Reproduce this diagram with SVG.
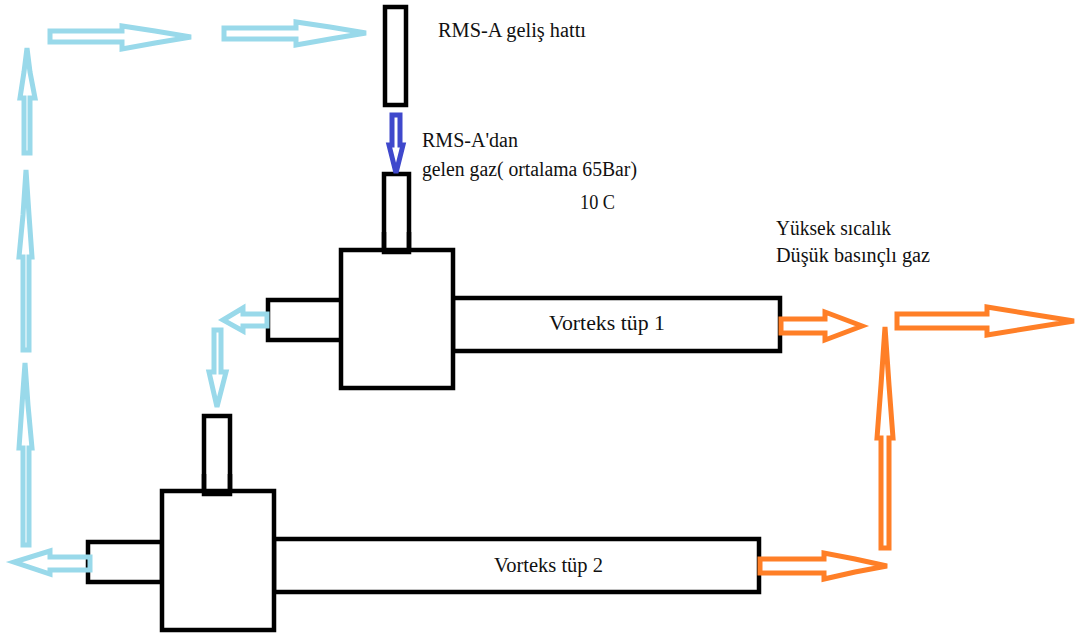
<svg xmlns="http://www.w3.org/2000/svg" width="1075" height="637" viewBox="0 0 1075 637">
<style>
.box{fill:#fff;stroke:#000;stroke-width:4.5}
.top{fill:none;stroke:#000;stroke-width:4.5}
.lb{fill:none;stroke:#99d9ea;stroke-width:5}
.or{fill:none;stroke:#ff7f27;stroke-width:5}
.bl{fill:none;stroke:#3f48cc;stroke-width:5}
text{font-family:"Liberation Serif","Times New Roman",serif;font-size:20px;fill:#111}
</style>
<rect width="1075" height="637" fill="#fff"/>
<g id="line"><rect class="box" x="385" y="7" width="21" height="98"/></g>
<g id="tube1">
<rect class="box" x="384" y="174" width="25" height="78"/>
<rect class="box" x="268" y="300" width="74" height="40"/>
<rect class="box" x="453" y="298" width="327" height="53"/>
<rect class="box" x="341" y="250" width="112" height="138"/>
<path class="top" d="M384,232V252H409V232"/>
<text x="549" y="330" textLength="116" lengthAdjust="spacingAndGlyphs">Vorteks tüp 1</text>
</g>
<g id="tube2">
<rect class="box" x="204" y="416" width="26" height="78"/>
<rect class="box" x="88" y="542" width="74" height="40"/>
<rect class="box" x="274" y="539" width="485" height="53"/>
<rect class="box" x="162" y="491" width="112" height="139"/>
<path class="top" d="M204,474V494H230V474"/>
<text x="494" y="572" textLength="109" lengthAdjust="spacingAndGlyphs">Vorteks tüp 2</text>
</g>
<g id="connectors">
<polygon class="lb" points="50,31 122,31 122,26 155,31 191,37 155,43 122,49 122,42 50,42"/>
<polygon class="lb" points="224,28 296,28 296,22 330,27 366,33 330,39 296,45 296,39 224,39"/>
<polygon class="lb" points="24,153 24,98 20,98 24,72 27,48 30,72 35,98 30,98 30,153"/>
<polygon class="lb" points="23,350 23,257 19,257 23,215 26,170 29,215 32,257 29,257 29,350"/>
<polygon class="lb" points="23,545 23,448 19,448 22,405 25,363 28,405 32,448 29,448 29,545"/>
<polygon class="lb" points="267,314 243,314 243,308 223,320 243,331 243,326 267,326"/>
<polygon class="lb" points="214,330 221,330 221,372 226,372 217,407 209,372 214,372"/>
<polygon class="lb" points="90,557 50,557 50,551 14,562 50,574 50,570 90,570"/>
<polygon class="bl" points="392,115 400,115 400,145 403,145 396,173 389,145 392,145"/>
<polygon class="or" points="781,319 825,319 825,312 862,326 825,340 825,333 781,333"/>
<polygon class="or" points="897,314 987,314 987,307 1030,314 1074,321 1030,328 987,335 987,328 897,328"/>
<polygon class="or" points="881,548 881,438 877,438 881,385 885,327 889,385 893,438 889,438 889,548"/>
<polygon class="or" points="760,559 824,559 824,553 855,559 887,566 855,572 824,579 824,573 760,573"/>
</g>
<g id="labels">
<text x="438" y="37" textLength="148" lengthAdjust="spacingAndGlyphs">RMS-A geliş hattı</text>
<text x="422" y="147" textLength="96" lengthAdjust="spacingAndGlyphs">RMS-A'dan</text>
<text x="422" y="176" textLength="215" lengthAdjust="spacingAndGlyphs">gelen gaz( ortalama 65Bar)</text>
<text x="580" y="209" textLength="35" lengthAdjust="spacingAndGlyphs">10 C</text>
<text x="776" y="235" textLength="115" lengthAdjust="spacingAndGlyphs">Yüksek sıcalık</text>
<text x="776" y="262" textLength="154" lengthAdjust="spacingAndGlyphs">Düşük basınçlı gaz</text>
</g>
</svg>
